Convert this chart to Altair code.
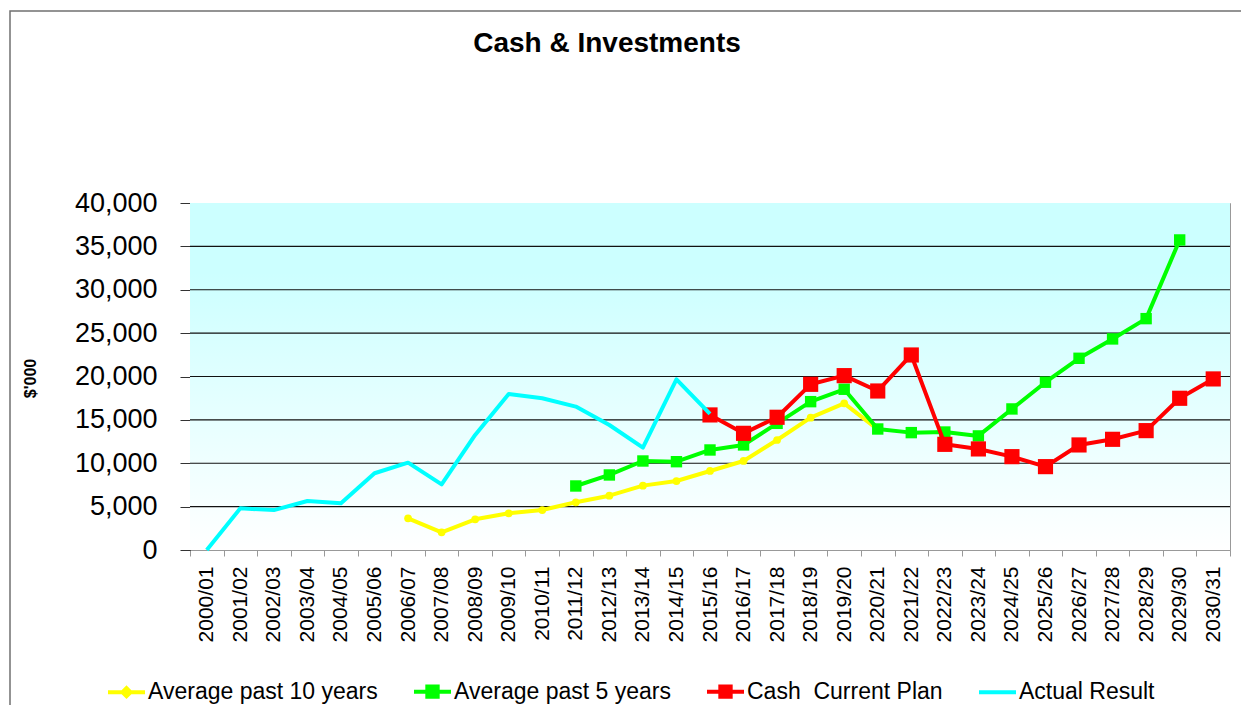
import altair as alt
import pandas as pd

years = ["2000/01", "2001/02", "2002/03", "2003/04", "2004/05", "2005/06", "2006/07",
         "2007/08", "2008/09", "2009/10", "2010/11", "2011/12", "2012/13", "2013/14",
         "2014/15", "2015/16", "2016/17", "2017/18", "2018/19", "2019/20", "2020/21",
         "2021/22", "2022/23", "2023/24", "2024/25", "2025/26", "2026/27", "2027/28",
         "2028/29", "2029/30", "2030/31"]

actual_start = "2000/01"
actual_result = [0, 4800, 4600, 5650, 5400, 8850, 10070, 7570, 13260, 17990, 17490,
                 16530, 14410, 11800, 19680, 15680]

avg10_start = "2006/07"
avg_past_10 = [3650, 2040, 3540, 4230, 4610, 5500, 6260, 7420, 7950, 9110, 10260,
               12680, 15250, 16910, 13900]

avg5_start = "2011/12"
avg_past_5 = [7380, 8650, 10260, 10180, 11530, 12110, 14600, 17100, 18530, 13950,
              13530, 13600, 13150, 16260, 19340, 22100, 24330, 26670, 35740]

cash_start = "2015/16"
cash_plan = [15570, 13450, 15300, 19100, 20100, 18330, 22480, 12180, 11650, 10760,
             9610, 12110, 12760, 13760, 17490, 19720]

series_names = ["Average past 10 years", "Average past 5 years",
                "Cash \u00a0Current Plan", "Actual Result"]
series_colors = ["#FFFF00", "#00FF00", "#FF0000", "#00FFFF"]
legend_shapes = ["M-1,0H1M0,-0.22L0.22,0L0,0.22L-0.22,0Z",
                 "M-1,0H1M-0.28,-0.28H0.28V0.28H-0.28Z",
                 "M-1,0H1M-0.28,-0.28H0.28V0.28H-0.28Z",
                 "M-1,0H1"]

y_ticks = [0, 5000, 10000, 15000, 20000, 25000, 30000, 35000, 40000]
grid_values = [5000, 10000, 15000, 20000, 25000, 30000, 35000]

W, H = 1040, 347
FONT = "Liberation Sans"


def frame(name, start, values):
    i = years.index(start)
    return pd.DataFrame({"year": years[i:i + len(values)], "value": values, "series": name})


df10 = frame(series_names[0], avg10_start, avg_past_10)
df5 = frame(series_names[1], avg5_start, avg_past_5)
dfc = frame(series_names[2], cash_start, cash_plan)
dfa = frame(series_names[3], actual_start, actual_result)

x_enc = alt.X("year:N", sort=years,
              scale=alt.Scale(type="band", domain=years, paddingInner=0, paddingOuter=0),
              axis=alt.Axis(title=None, labelAngle=-90, labelFontSize=21, labelFont=FONT,
                            labelColor="black", labelPadding=10, tickSize=6, tickBand="extent",
                            tickColor="#999999", domainColor="#999999", grid=False))

y_axis = alt.Axis(title="$'000", titleFont=FONT, titleFontSize=16, titleFontWeight="bold",
                  titleColor="black", titleX=-160, titleY=175, titleAngle=-90,
                  titleAlign="center", titleBaseline="middle",
                  values=y_ticks, format=",.0f", labelFontSize=27, labelFont=FONT,
                  labelColor="black", labelPadding=23, tickSize=10, tickColor="#333333",
                  domainColor="#333333", grid=False)


def y_enc():
    return alt.Y("value:Q", scale=alt.Scale(domain=[0, 40000], nice=False), axis=y_axis)


def make_legend():
    return alt.Legend(
        title=None, orient="none", legendX=-84, legendY=468, direction="horizontal",
        columns=4, columnPadding=28, labelFont=FONT, labelFontSize=23, labelColor="black",
        labelOffset=1, labelLimit=400, symbolSize=1369, symbolStrokeWidth=4, symbolOpacity=1)


one = pd.DataFrame({"k": [0]})

border = alt.Chart(one).mark_rect(fillOpacity=0, stroke="#707070", strokeWidth=1.5).encode(
    x=alt.value(-180), x2=alt.value(1080), y=alt.value(-192), y2=alt.value(540))

bg = alt.Chart(one).mark_rect(
    color=alt.Gradient(gradient="linear",
                       stops=[alt.GradientStop(color="#CCFFFF", offset=0),
                              alt.GradientStop(color="#CCFFFF", offset=0.2),
                              alt.GradientStop(color="#FFFFFF", offset=1)],
                       x1=0, x2=0, y1=0, y2=1)
).encode(x=alt.value(0), x2=alt.value(W), y=alt.value(0), y2=alt.value(H))

grid = alt.Chart(pd.DataFrame({"value": grid_values})).mark_rule(
    color="#111111", strokeWidth=1.1).encode(y=y_enc())


def line(df, color, width=4):
    return alt.Chart(df).mark_line(strokeWidth=width, strokeJoin="round", color=color).encode(
        x=x_enc, y=y_enc())


def pts(df, shape, size, color):
    return alt.Chart(df).mark_point(filled=True, shape=shape, size=size, color=color,
                                    opacity=1).encode(x=x_enc, y=y_enc())


# legend-only layer: values are empty so nothing is drawn, only the legend from the scales
legend_df = pd.DataFrame({"year": [years[0]] * 4, "value": [None] * 4, "series": series_names})
legend_layer = alt.Chart(legend_df).mark_point(filled=True, opacity=1, size=1369,
                                               strokeWidth=4).encode(
    x=x_enc, y=y_enc(),
    color=alt.Color("series:N", scale=alt.Scale(domain=series_names, range=series_colors),
                    legend=make_legend()),
    stroke=alt.Stroke("series:N", scale=alt.Scale(domain=series_names, range=series_colors),
                      legend=make_legend()),
    shape=alt.Shape("series:N", scale=alt.Scale(domain=series_names, range=legend_shapes),
                    legend=make_legend()),
)

title = alt.Chart(one).mark_text(text="Cash & Investments", font=FONT, fontSize=28,
                                 fontWeight="bold", color="black", align="center",
                                 baseline="middle").encode(x=alt.value(417), y=alt.value(-159))

chart = alt.layer(
    border, bg, grid,
    line(df10, series_colors[0]), pts(df10, "circle", 60, series_colors[0]),
    line(df5, series_colors[1]), pts(df5, "square", 130, series_colors[1]),
    line(dfc, series_colors[2]), pts(dfc, "square", 230, series_colors[2]),
    line(dfa, series_colors[3]),
    legend_layer,
    title
).properties(
    width=W, height=H,
    autosize=alt.AutoSizeParams(type="none"),
    padding={"left": 182, "top": 195, "right": 11, "bottom": 155}
).configure_view(stroke="#999999", strokeWidth=1)

chart.save("out.html", embed_options={"renderer": "svg", "actions": False})
